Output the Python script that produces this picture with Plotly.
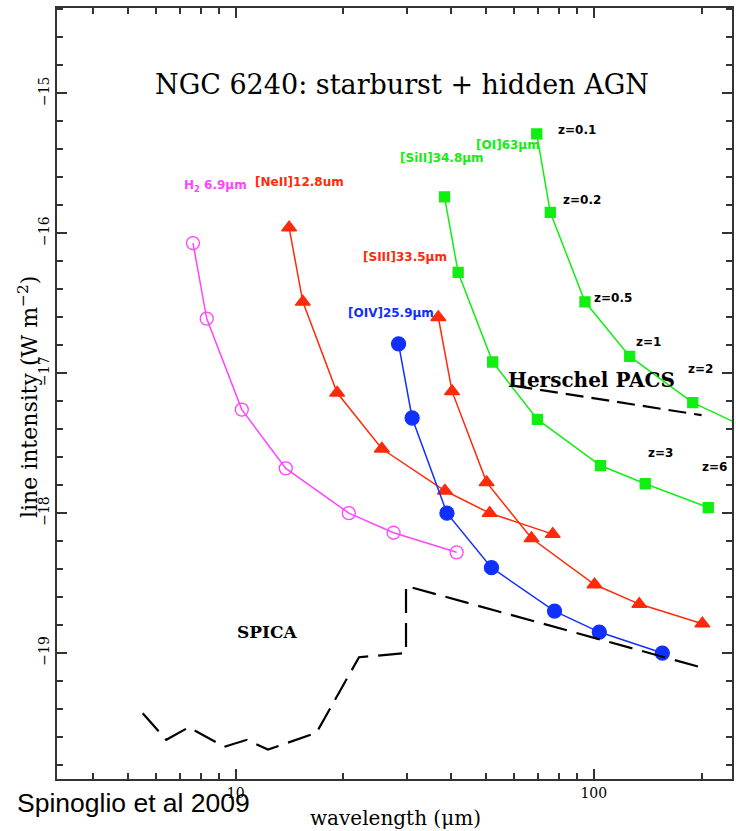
import math
import plotly.graph_objects as go

# Redshifted line wavelengths (micron) and log line intensities (W m^-2)
h2_wl = [7.6, 8.3, 10.4, 13.8, 20.7, 27.6, 41.4]
h2_int = [-16.07, -16.61, -17.26, -17.68, -18.00, -18.14, -18.28]

neii_wl = [14.1, 15.4, 19.2, 25.6, 38.4, 51.2, 76.8]
neii_int = [-15.96, -16.49, -17.14, -17.54, -17.84, -18.00, -18.15]

siii_wl = [36.8, 40.2, 50.2, 67.0, 100.5, 134.0, 201.0]
siii_int = [-16.60, -17.13, -17.78, -18.18, -18.51, -18.65, -18.79]

oiv_wl = [28.5, 31.1, 38.9, 51.8, 77.7, 103.6, 155.4]
oiv_int = [-16.79, -17.32, -18.00, -18.39, -18.70, -18.85, -19.00]

sii_wl = [38.3, 41.8, 52.2, 69.6, 104.4, 139.2, 208.8]
sii_int = [-15.74, -16.28, -16.92, -17.33, -17.66, -17.79, -17.96]

oi_wl = [69.3, 75.6, 94.5, 126.0, 189.0, 252.0]
oi_int = [-15.29, -15.85, -16.49, -16.88, -17.21, -17.36]

# Instrument sensitivity limits
spica_wl = [5.5, 6.4, 7.4, 9.3, 10.75, 12.3, 16.8, 22.1, 29.9, 29.9, 198.0]
spica_int = [-19.43, -19.62, -19.53, -19.67, -19.62, -19.69, -19.57, -19.03, -19.00, -18.52, -19.10]

pacs_wl = [60.0, 200.0]
pacs_int = [-17.09, -17.30]

x_ticks = [10, 100]
x_minor = [4, 5, 6, 7, 8, 9, 20, 30, 40, 50, 60, 70, 80, 90, 200]

MAGENTA = "#ff44ff"
RED = "#ff2a0a"
BLUE = "#1030ff"
GREEN = "#11ee11"

fig = go.Figure()


def series(wl, val, color, symbol, size, lw=1.5):
    fig.add_trace(go.Scatter(
        x=wl, y=val, mode="lines+markers",
        line=dict(color=color, width=lw),
        marker=dict(color=color, symbol=symbol, size=size,
                    line=dict(color=color, width=1.3)),
        showlegend=False, hoverinfo="skip"))


series(h2_wl, h2_int, MAGENTA, "circle-open", 13)
series(neii_wl, neii_int, RED, "triangle-up", 13)
series(siii_wl, siii_int, RED, "triangle-up", 13)
series(oiv_wl, oiv_int, BLUE, "circle", 14)
series(sii_wl, sii_int, GREEN, "square", 10)
series(oi_wl, oi_int, GREEN, "square", 10)

fig.add_trace(go.Scatter(x=spica_wl, y=spica_int, mode="lines",
                         line=dict(color="black", width=2.2, dash="24px,10px"),
                         showlegend=False, hoverinfo="skip"))
fig.add_trace(go.Scatter(x=pacs_wl, y=pacs_int, mode="lines",
                         line=dict(color="black", width=2.2, dash="18px,8px"),
                         showlegend=False, hoverinfo="skip"))

SERIF = "DejaVu Serif"
SANS = "DejaVu Sans"


def label(wl, val, text, color, size=12, family=SANS, weight="bold"):
    fig.add_annotation(x=math.log10(wl), y=val, xref="x", yref="y", text=text,
                       showarrow=False, xanchor="center", yanchor="middle",
                       font=dict(family=family, size=size, color=color, weight=weight))


# Line identifications
label(8.79, -15.662, "H<sub>2</sub> 6.9μm", MAGENTA)
label(15.07, -15.634, "[NeII]12.8um", RED)
label(29.75, -16.167, "[SIII]33.5μm", RED)
label(27.2, -16.569, "[OIV]25.9μm", BLUE)
label(37.8, -15.462, "[SiII]34.8μm", GREEN)
label(57.5, -15.369, "[OI]63μm", GREEN)

# Redshift markers
label(89.7, -15.263, "z=0.1", "black")
label(92.7, -15.764, "z=0.2", "black")
label(113.2, -16.465, "z=0.5", "black")
label(142.2, -16.774, "z=1", "black")
label(198.2, -16.971, "z=2", "black")
label(153.8, -17.571, "z=3", "black")
label(216.8, -17.667, "z=6", "black")

label(98.7, -17.048, "Herschel PACS", "black", size=20, family=SERIF, weight="bold")
label(12.27, -18.847, "SPICA", "black", size=17, family=SERIF, weight="bold")
label(29.2, -14.934, "NGC 6240: starburst + hidden AGN", "black", size=27,
      family=SERIF, weight="normal")

# Plot area in pixels
W, H = 736, 831
L, R, T, B = 57, 734, 8, 779


def px(xp, yp):
    return (xp - L) / (R - L), (B - yp) / (B - T)


def paper_text(xp, yp, text, font, angle=0):
    ax, ay = px(xp, yp)
    fig.add_annotation(x=ax, y=ay, xref="paper", yref="paper", text=text,
                       textangle=angle, showarrow=False,
                       xanchor="center", yanchor="middle", font=font)


paper_text(28, 397, "line intensity (W m<sup>−2</sup>)",
           dict(family=SERIF, size=22, color="black"), angle=-90)
paper_text(397, 818, "wavelength (μm)", dict(family=SERIF, size=20, color="black"))
paper_text(134, 803, "Spinoglio et al 2009",
           dict(family="Liberation Sans", size=26.5, color="black"))

axis_color = "#333333"
fig.update_layout(
    width=W, height=H,
    margin=dict(l=L, r=W - R, t=T, b=H - B, pad=0),
    paper_bgcolor="white", plot_bgcolor="white",
    xaxis=dict(type="log", range=[0.501, 2.386],
               tickmode="array", tickvals=x_ticks, ticktext=[str(v) for v in x_ticks],
               ticks="inside", ticklen=10, tickwidth=1.5, tickcolor=axis_color,
               minor=dict(tickmode="array", tickvals=x_minor, ticks="inside",
                          ticklen=6, tickwidth=1.5, tickcolor=axis_color),
               showline=True, linecolor=axis_color, linewidth=2, mirror="ticks",
               showgrid=False, zeroline=False,
               tickfont=dict(family=SERIF, size=14, color="black")),
    yaxis=dict(range=[-19.9, -14.39], tick0=-15, dtick=1,
               ticks="inside", ticklen=10, tickwidth=1.5, tickcolor=axis_color,
               minor=dict(dtick=0.2, ticks="inside", ticklen=6, tickwidth=1.5,
                          tickcolor=axis_color),
               showline=True, linecolor=axis_color, linewidth=2, mirror="ticks",
               showgrid=False, zeroline=False, tickangle=-90,
               tickfont=dict(family=SERIF, size=14, color="black")),
)

fig.write_html("out.html")
